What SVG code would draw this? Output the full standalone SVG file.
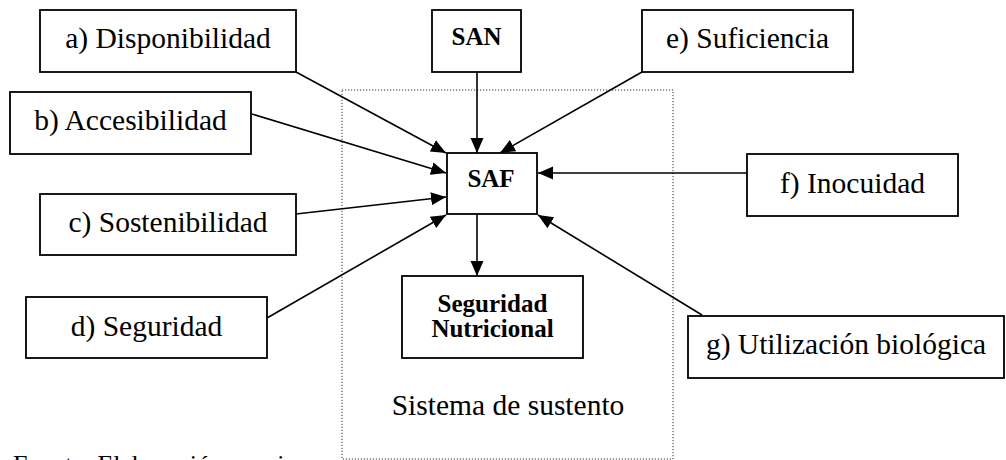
<svg xmlns="http://www.w3.org/2000/svg" width="1006" height="460" viewBox="0 0 1006 460">
<style>
.box{fill:#fff;stroke:#000;stroke-width:1.8}
.t{font-family:"Liberation Serif","Times New Roman",serif;font-size:29.5px;fill:#000;text-anchor:middle}
.b{font-family:"Liberation Serif","Times New Roman",serif;font-size:25px;font-weight:bold;fill:#000;text-anchor:middle}
.c{stroke:#000;stroke-width:1.6;fill:none;marker-end:url(#ah)}
</style>
<defs>
<marker id="ah" markerUnits="userSpaceOnUse" markerWidth="16" markerHeight="16" viewBox="0 0 16 16" refX="15" refY="8" orient="auto">
<path d="M0,1.5 L15,8 L0,14.5 Z" fill="#000"/>
</marker>
</defs>
<rect x="0" y="0" width="1006" height="460" fill="#fff"/>
<g id="sistema">
<rect x="342" y="90" width="331" height="369" fill="none" stroke="#333" stroke-width="1" stroke-dasharray="1.2 1.8"/>
<text class="t" x="508" y="415">Sistema de sustento</text>
</g>
<g id="connectors">
<line class="c" x1="296" y1="72" x2="446" y2="153"/>
<line class="c" x1="252" y1="114" x2="446" y2="173"/>
<line class="c" x1="296" y1="214" x2="446" y2="197"/>
<line class="c" x1="267" y1="318" x2="446" y2="215"/>
<line class="c" x1="477" y1="72" x2="477" y2="153"/>
<line class="c" x1="642" y1="72" x2="500" y2="153"/>
<line class="c" x1="747" y1="173" x2="538" y2="173"/>
<line class="c" x1="702" y1="315" x2="538" y2="215"/>
<line class="c" x1="477" y1="214" x2="477" y2="276"/>
</g>
<g id="a"><rect class="box" x="40" y="10" width="256" height="62"/><text class="t" x="168" y="48">a) Disponibilidad</text></g>
<g id="b"><rect class="box" x="10" y="92" width="241" height="62"/><text class="t" x="130.5" y="130">b) Accesibilidad</text></g>
<g id="c"><rect class="box" x="40" y="194" width="256" height="61"/><text class="t" x="168" y="232">c) Sostenibilidad</text></g>
<g id="d"><rect class="box" x="26" y="297" width="241" height="61"/><text class="t" x="146.5" y="336">d) Seguridad</text></g>
<g id="san"><rect class="box" x="432" y="10" width="89" height="62"/><text class="b" x="476.5" y="45">SAN</text></g>
<g id="e"><rect class="box" x="642" y="10" width="211" height="62"/><text class="t" x="747.5" y="48">e) Suficiencia</text></g>
<g id="saf"><rect class="box" x="447" y="153" width="90" height="61"/><text class="b" x="491" y="187">SAF</text></g>
<g id="f"><rect class="box" x="747" y="154" width="211" height="62"/><text class="t" x="852.5" y="193">f) Inocuidad</text></g>
<g id="sn"><rect class="box" x="402" y="276" width="181" height="82"/><text class="b" x="492.5" y="312">Seguridad</text><text class="b" x="492.5" y="337">Nutricional</text></g>
<g id="g"><rect class="box" x="688" y="316" width="316" height="62"/><text class="t" x="846" y="354">g) Utilización biológica</text></g>
<g id="fuente"><text class="t" x="13" y="473" style="text-anchor:start;font-size:26px">Fuente: Elaboración propia</text></g>
</svg>
